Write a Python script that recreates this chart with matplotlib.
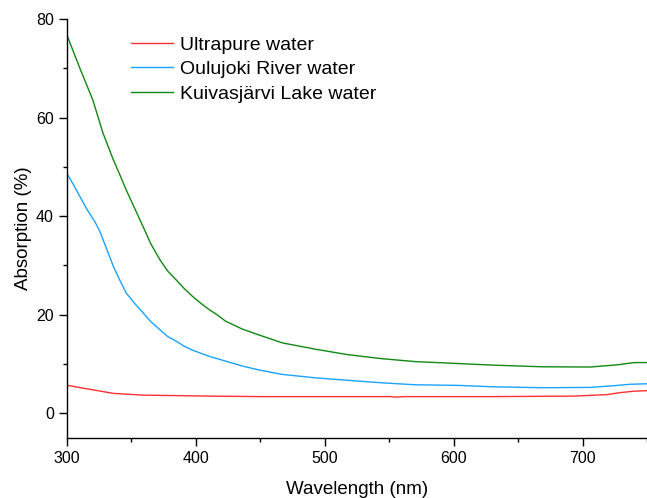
import matplotlib
matplotlib.use('Agg')
import matplotlib.pyplot as plt
from matplotlib.ticker import MultipleLocator

plt.rcParams['font.family'] = ['Liberation Sans', 'DejaVu Sans']

# Wavelength (nm) and absorption (%)
wl_green = [300, 310, 320, 328, 336, 341, 346, 352.5, 359, 365, 372, 378, 385, 391,
            397.5, 404, 410, 417, 423, 436, 449, 467, 493, 518, 544, 570, 604, 629,
            668, 706, 727, 740, 750]
kuivasjarvi = [76.7, 70.0, 63.6, 56.8, 51.4, 48.4, 45.3, 41.6, 37.9, 34.4, 31.2, 28.9,
               27.0, 25.3, 23.7, 22.3, 21.1, 19.9, 18.7, 17.1, 15.9, 14.3, 13.0, 11.9,
               11.1, 10.5, 10.1, 9.8, 9.45, 9.4, 9.85, 10.3, 10.3]

wl_blue = [300, 305, 310, 315, 321.6, 325.5, 328, 332, 336, 341, 346, 352.5, 359, 365,
           372, 378, 385, 391, 397.5, 410, 423, 436, 449, 467, 493, 518, 544, 570,
           604, 629, 668, 706, 727, 737, 750]
oulujoki = [48.6, 46.4, 44.0, 41.6, 38.9, 36.9, 35.2, 32.5, 29.8, 27.0, 24.4, 22.3,
            20.4, 18.6, 17.0, 15.6, 14.6, 13.6, 12.8, 11.6, 10.6, 9.6, 8.8, 7.9, 7.2,
            6.7, 6.2, 5.8, 5.67, 5.4, 5.2, 5.26, 5.67, 5.9, 6.0]

wl_red = [300, 315, 336, 359, 385, 410, 449, 500, 550, 556, 562, 611, 633, 693,
          719, 729, 740, 750]
ultrapure = [5.7, 5.0, 4.05, 3.7, 3.6, 3.5, 3.4, 3.4, 3.4, 3.3, 3.4, 3.4, 3.4, 3.5,
             3.8, 4.2, 4.5, 4.6]

labels = ['Ultrapure water', 'Oulujoki River water', 'Kuivasjärvi Lake water']
colors = ['#FF3030', '#1AA3FF', '#118811']

fig = plt.figure(figsize=(6.47, 4.98), dpi=100)
ax = fig.add_axes([67 / 647, 60 / 498, 580 / 647, 419 / 498])

ax.plot(wl_red, ultrapure, color=colors[0], lw=1, label=labels[0])
ax.plot(wl_blue, oulujoki, color=colors[1], lw=1, label=labels[1])
ax.plot(wl_green, kuivasjarvi, color=colors[2], lw=1, label=labels[2])

ax.set_xlim(300, 750)
ax.set_ylim(-5, 80)
ax.xaxis.set_major_locator(MultipleLocator(100))
ax.xaxis.set_minor_locator(MultipleLocator(50))
ax.yaxis.set_major_locator(MultipleLocator(20))
ax.yaxis.set_minor_locator(MultipleLocator(10))
ax.tick_params(which='major', direction='out', length=5.5, width=1, labelsize=11.5, pad=4)
ax.tick_params(which='minor', direction='out', length=3, width=1)
ax.spines['top'].set_visible(False)
ax.spines['right'].set_visible(False)
for s in ('left', 'bottom'):
    ax.spines[s].set_linewidth(1)

ax.set_xlabel('Wavelength (nm)', fontsize=13.5, labelpad=11)
ax.set_ylabel('Absorption (%)', fontsize=13.5, labelpad=3)

ax.legend(frameon=False, fontsize=14, loc='upper left',
          bbox_to_anchor=(131 / 647, 1 - 36 / 498), bbox_transform=fig.transFigure,
          handlelength=2.15, handletextpad=0.36, labelspacing=0.36, borderpad=0,
          borderaxespad=0)

fig.savefig('out.png', dpi=100)
